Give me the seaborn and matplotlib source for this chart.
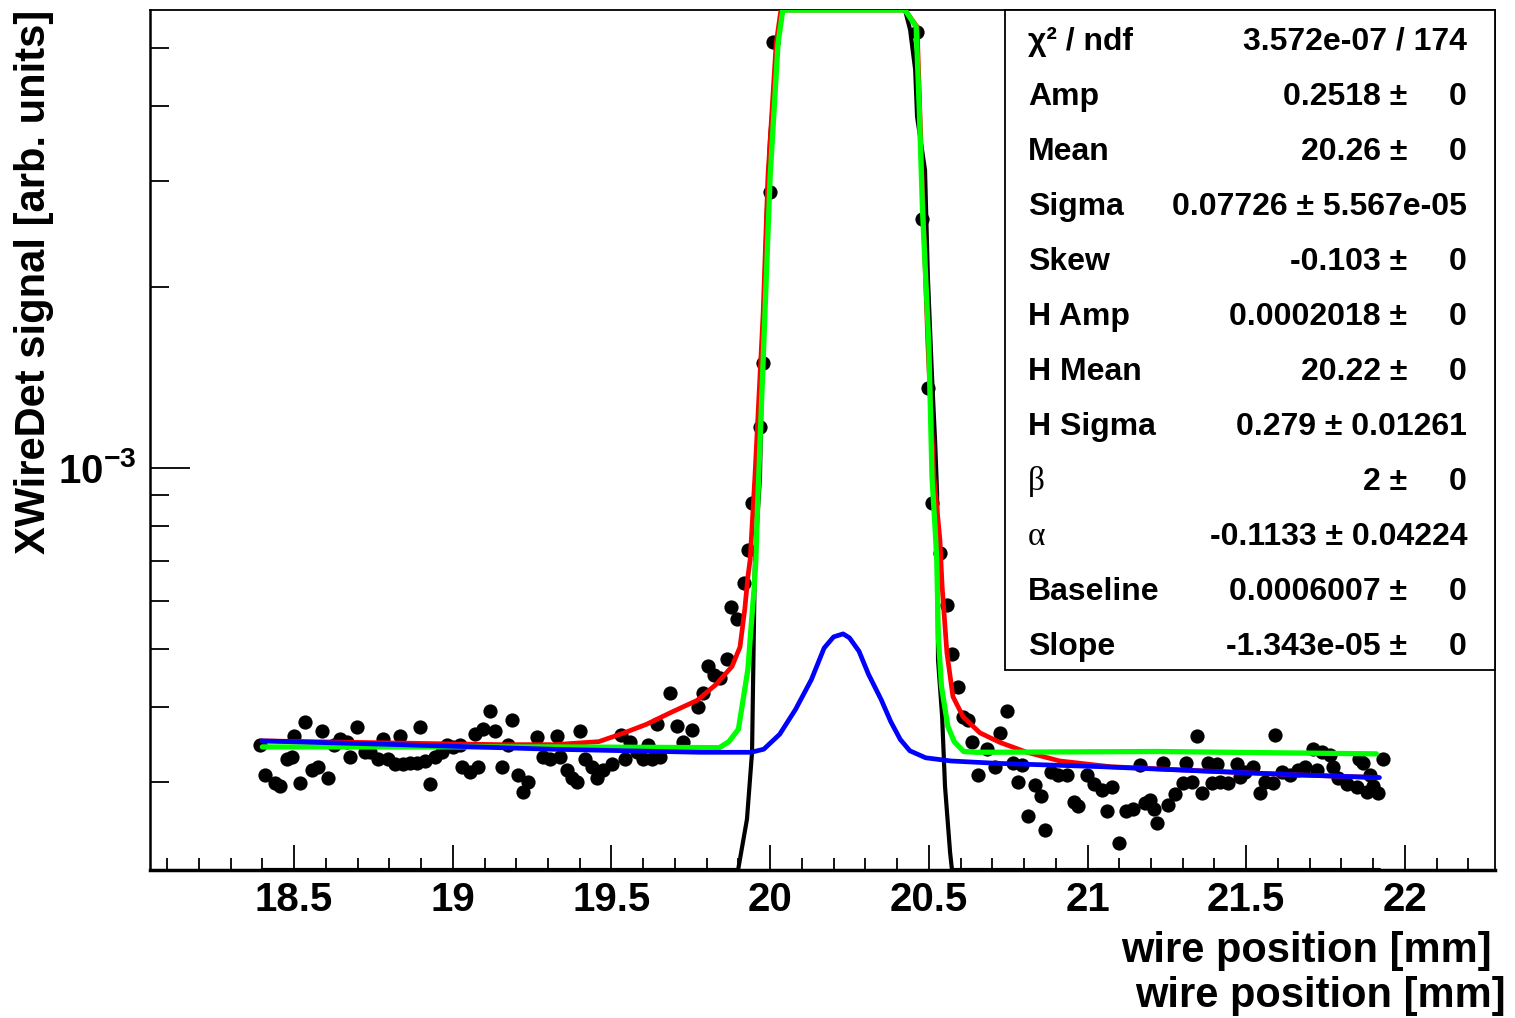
import numpy as np
import pandas as pd
import matplotlib
matplotlib.use("Agg")
import matplotlib.pyplot as plt
import seaborn as sns
from matplotlib.ticker import LogLocator, MultipleLocator, FuncFormatter, NullFormatter
from matplotlib.patches import Rectangle

# ---------------- data (signal values in units of 1e-4) ----------------
point_x = [18.393, 18.409, 18.440, 18.456, 18.478, 18.494, 18.500, 18.519, 18.535, 18.557,
           18.576, 18.588, 18.607, 18.626, 18.645, 18.667, 18.676, 18.698, 18.724, 18.739,
           18.765, 18.780, 18.796, 18.818, 18.834, 18.843, 18.865, 18.888, 18.897, 18.913,
           18.928, 18.944, 18.966, 18.982, 19.001, 19.023, 19.029, 19.055, 19.070, 19.080,
           19.095, 19.118, 19.133, 19.155, 19.174, 19.187, 19.206, 19.221, 19.237, 19.266,
           19.284, 19.307, 19.329, 19.338, 19.360, 19.376, 19.392, 19.401, 19.417, 19.439,
           19.455, 19.474, 19.502, 19.530, 19.543, 19.559, 19.581, 19.600, 19.615, 19.628,
           19.644, 19.653, 19.685, 19.707, 19.726, 19.754, 19.773, 19.789, 19.804, 19.823,
           19.842, 19.864, 19.877, 19.896, 19.918, 19.930, 19.943, 19.968, 19.978, 20.000,
           20.009, 20.463, 20.479, 20.497, 20.510, 20.535, 20.557, 20.573, 20.592, 20.608,
           20.624, 20.636, 20.655, 20.683, 20.709, 20.724, 20.746, 20.765, 20.781, 20.794,
           20.813, 20.835, 20.854, 20.866, 20.885, 20.907, 20.935, 20.957, 20.970, 20.998,
           21.020, 21.046, 21.061, 21.077, 21.099, 21.121, 21.143, 21.165, 21.181, 21.197,
           21.209, 21.219, 21.238, 21.254, 21.276, 21.301, 21.310, 21.329, 21.345, 21.361,
           21.380, 21.392, 21.408, 21.418, 21.443, 21.471, 21.481, 21.496, 21.522, 21.543,
           21.559, 21.584, 21.591, 21.613, 21.638, 21.663, 21.685, 21.710, 21.723, 21.739,
           21.764, 21.773, 21.789, 21.818, 21.849, 21.855, 21.868, 21.880, 21.890, 21.899,
           21.915, 21.931]
point_e4 = [3.46, 3.08, 2.99, 2.95, 3.27, 3.30, 3.57, 2.99, 3.77, 3.14,
            3.17, 3.64, 3.05, 3.46, 3.53, 3.50, 3.30, 3.70, 3.37, 3.36,
            3.27, 3.53, 3.27, 3.21, 3.57, 3.21, 3.23, 3.23, 3.70, 3.25,
            2.97, 3.30, 3.37, 3.46, 3.43, 3.46, 3.17, 3.12, 3.60, 3.17,
            3.67, 3.93, 3.64, 3.17, 3.46, 3.81, 3.08, 2.89, 3.00, 3.56,
            3.30, 3.27, 3.57, 3.30, 3.14, 3.05, 3.00, 3.64, 3.27, 3.17,
            3.05, 3.14, 3.21, 3.59, 3.27, 3.49, 3.36, 3.27, 3.46, 3.27,
            3.74, 3.30, 4.22, 3.71, 3.50, 3.66, 4.00, 4.22, 4.67, 4.51,
            4.46, 4.80, 5.87, 5.59, 6.44, 7.30, 8.75, 11.70, 14.96, 28.8,
            51.1, 53.2, 25.9, 13.6, 8.75, 7.22, 5.91, 4.89, 4.32, 3.85,
            3.81, 3.49, 3.08, 3.40, 3.17, 3.62, 3.94, 3.23, 3.00, 3.20,
            2.63, 2.96, 2.84, 2.49, 3.11, 3.08, 3.08, 2.78, 2.73, 3.08,
            2.97, 2.91, 2.68, 2.94, 2.37, 2.68, 2.70, 3.20, 2.77, 2.80,
            2.70, 2.56, 3.23, 2.75, 2.86, 2.99, 3.23, 3.00, 3.57, 2.88,
            3.23, 2.99, 3.21, 3.00, 2.99, 3.21, 3.06, 3.12, 3.17, 2.88,
            3.00, 2.99, 3.59, 3.11, 3.08, 3.14, 3.17, 3.40, 3.14, 3.37,
            3.33, 3.17, 3.05, 2.97, 2.94, 3.27, 3.23, 2.89, 3.08, 2.95,
            2.88, 3.27]

black_x = [18.40, 19.899, 19.927, 19.943, 19.952, 19.968, 19.975, 19.990, 20.000, 20.016,
           20.031, 20.041, 20.425, 20.441, 20.457, 20.463, 20.488, 20.497, 20.510, 20.520,
           20.526, 20.529, 20.542, 20.551, 20.567, 20.573, 21.92]
black_e4 = [2.14, 2.14, 2.60, 3.36, 7.03, 9.66, 15.1, 26.9, 35.5, 44.7,
            55.0, 57.8, 57.8, 53.6, 46.0, 38.4, 31.3, 20.8, 14.2, 11.0,
            9.09, 4.79, 3.85, 2.95, 2.29, 2.14, 2.14]

red_x = [18.40, 19.15, 19.32, 19.46, 19.54, 19.61, 19.69, 19.77, 19.83, 19.88,
         19.905, 19.92, 19.93, 19.937, 19.952, 19.978, 19.993, 20.019, 20.034, 20.425,
         20.463, 20.482, 20.497, 20.516, 20.535, 20.542, 20.557, 20.576, 20.608, 20.661,
         20.724, 20.809, 20.913, 21.071, 21.355, 21.670, 21.915]
red_e4 = [3.51, 3.46, 3.46, 3.50, 3.62, 3.74, 3.92, 4.10, 4.36, 4.67,
          5.03, 5.81, 6.59, 7.03, 9.66, 18.1, 30.5, 50.9, 57.8, 57.8,
          54.2, 26.9, 16.1, 9.66, 7.59, 6.34, 4.92, 4.16, 3.85, 3.62,
          3.49, 3.36, 3.25, 3.18, 3.13, 3.08, 3.05]

green_x = [18.40, 19.30, 19.84, 19.87, 19.90, 19.91, 19.93, 19.94, 19.95, 19.955,
           19.96, 19.98, 20.00, 20.025, 20.04, 20.425, 20.46, 20.47, 20.48, 20.50,
           20.51, 20.52, 20.525, 20.53, 20.54, 20.56, 20.58, 20.61, 20.65, 21.22, 21.91]
green_e4 = [3.43, 3.43, 3.42, 3.50, 3.67, 3.96, 4.62, 5.44, 6.34, 7.03,
            8.51, 16.1, 30.5, 50.9, 57.8, 57.8, 54.2, 39.4, 26.9, 16.1,
            9.66, 7.89, 7.03, 5.23, 4.32, 3.71, 3.50, 3.37, 3.36, 3.37, 3.34]

blue_x = [18.40, 18.83, 19.31, 19.78, 19.94, 19.98, 20.03, 20.08, 20.13, 20.17,
          20.20, 20.23, 20.25, 20.28, 20.31, 20.35, 20.38, 20.41, 20.44, 20.49,
          20.57, 20.72, 21.04, 21.35, 21.67, 21.92]
blue_e4 = [3.51, 3.46, 3.40, 3.36, 3.36, 3.40, 3.60, 3.96, 4.44, 5.01,
           5.23, 5.29, 5.21, 4.95, 4.53, 4.11, 3.78, 3.53, 3.38, 3.29,
           3.25, 3.22, 3.18, 3.13, 3.08, 3.05]

stat_names = ["\u03c7\u00b2 / ndf", "Amp", "Mean", "Sigma", "Skew", "H Amp", "H Mean",
              "H Sigma", "\u03b2", "\u03b1", "Baseline", "Slope"]
stat_values = ["3.572e-07", "0.2518", "20.26", "0.07726", "-0.103", "0.0002018", "20.22",
               "0.279", "2", "-0.1133", "0.0006007", "-1.343e-05"]
stat_errors = ["174", "0", "0", "5.567e-05", "0", "0", "0", "0.01261", "0", "0.04224", "0", "0"]

x_label = "wire position [mm]"
y_label = "XWireDet signal [arb. units]"
x_range = (18.046, 22.284)
y_range = (2.14e-4, 5.78e-3)
UNIT = 1e-4

# ---------------- style ----------------
sns.set_style("white")
plt.rcParams['font.family'] = ['Liberation Sans', 'DejaVu Sans']
plt.rcParams['font.weight'] = 'bold'
plt.rcParams['text.color'] = 'black'
plt.rcParams['xtick.color'] = 'black'
plt.rcParams['ytick.color'] = 'black'
plt.rcParams['axes.labelcolor'] = 'black'
plt.rcParams['mathtext.fontset'] = 'custom'
plt.rcParams['mathtext.rm'] = 'Liberation Sans:bold'
plt.rcParams['mathtext.bf'] = 'Liberation Sans:bold'
plt.rcParams['mathtext.it'] = 'Liberation Sans:bold'

W, H = 1515, 1018
fig = plt.figure(figsize=(W / 100, H / 100), dpi=100)
ax = fig.add_axes([150 / W, 1 - 870 / H, 1345 / W, 860 / H])
ax.set_yscale('log')

pts = pd.DataFrame({"x": point_x, "y": np.array(point_e4) * UNIT})
sns.scatterplot(data=pts, x="x", y="y", color="black", s=105, linewidth=0,
                ax=ax, zorder=2, legend=False)

curves = [(black_x, black_e4, "black", 3.0, 3),
          (red_x, red_e4, "#ff0000", 3.4, 4),
          (green_x, green_e4, "#00ff00", 3.8, 5),
          (blue_x, blue_e4, "#0000ff", 3.4, 6)]
for cx, cy, col, lw, z in curves:
    sns.lineplot(x=cx, y=np.array(cy) * UNIT, sort=False, estimator=None,
                 color=col, linewidth=lw, ax=ax, zorder=z, legend=False)

ax.set_xlim(*x_range)
ax.set_ylim(*y_range)
ax.set_xlabel("")
ax.set_ylabel("")

ax.xaxis.set_major_locator(MultipleLocator(0.5))
ax.xaxis.set_minor_locator(MultipleLocator(0.1))
ax.xaxis.set_major_formatter(FuncFormatter(lambda v, p: "{:g}".format(round(v, 2))))
ax.yaxis.set_major_locator(LogLocator(base=10, numticks=10))
ax.yaxis.set_minor_locator(LogLocator(base=10, subs=np.arange(2, 10), numticks=30))
ax.yaxis.set_minor_formatter(NullFormatter())
ax.yaxis.set_major_formatter(FuncFormatter(
    lambda v, p: r"$\mathbf{10^{%d}}$" % int(round(np.log10(v)))))

ax.tick_params(axis='both', which='both', direction='in', bottom=True, left=True,
               top=False, right=False, color='black', labelcolor='black')
ax.tick_params(axis='y', which='major', length=29, width=1.3, labelsize=29, pad=10)
ax.tick_params(axis='y', which='minor', length=14, width=1.3)
ax.tick_params(axis='x', which='major', length=18, width=1.3, labelsize=29, pad=8)
ax.tick_params(axis='x', which='minor', length=9, width=1.3)
for lab in ax.get_xticklabels() + ax.get_yticklabels():
    lab.set_fontweight('bold')

for s in ax.spines.values():
    s.set_color('black')
    s.set_linewidth(1.3)
ax.spines['bottom'].set_linewidth(2.5)
ax.spines['left'].set_linewidth(1.8)

# ---------------- stats box ----------------
def ax_x(px):
    return (px - 150) / 1345

def ax_y(py):
    return (870 - py) / 860

box_l, box_b = ax_x(1005), ax_y(670)
ax.add_patch(Rectangle((box_l, box_b), 1 - box_l, 1 - box_b, transform=ax.transAxes,
                       facecolor='white', edgecolor='black', linewidth=1.3,
                       zorder=10, clip_on=False))
for i, (nm, val, err) in enumerate(zip(stat_names, stat_values, stat_errors)):
    yb = ax_y(39 + 55 * i + 11)
    if nm in ("\u03b2", "\u03b1"):
        ax.text(ax_x(1028), yb, nm, transform=ax.transAxes, ha='left', va='baseline',
                fontsize=24, fontweight='normal', family=['Liberation Serif', 'DejaVu Serif'],
                zorder=11)
    else:
        ax.text(ax_x(1028), yb, nm, transform=ax.transAxes, ha='left', va='baseline',
                fontsize=23, fontweight='bold', zorder=11)
    if i == 0:
        ax.text(ax_x(1467), yb, f"{val} / {err}", transform=ax.transAxes, ha='right',
                va='baseline', fontsize=23, fontweight='bold', zorder=11)
    elif err == "0":
        ax.text(ax_x(1407), yb, f"{val} \u00b1", transform=ax.transAxes, ha='right',
                va='baseline', fontsize=23, fontweight='bold', zorder=11)
        ax.text(ax_x(1467), yb, err, transform=ax.transAxes, ha='right',
                va='baseline', fontsize=23, fontweight='bold', zorder=11)
    else:
        ax.text(ax_x(1467), yb, f"{val} \u00b1 {err}", transform=ax.transAxes, ha='right',
                va='baseline', fontsize=23, fontweight='bold', zorder=11)

# ---------------- axis titles ----------------
fig.text(1492 / W, 1 - 962 / H, x_label, ha='right', va='baseline',
         fontsize=30, fontweight='bold')
fig.text(1506 / W, 1 - 1007 / H, x_label, ha='right', va='baseline',
         fontsize=30, fontweight='bold')
fig.text(34 / W, 1 - 10 / H, y_label, rotation=90, ha='center', va='top',
         fontsize=30, fontweight='bold')

fig.savefig("out.png", dpi=100, facecolor='white')
